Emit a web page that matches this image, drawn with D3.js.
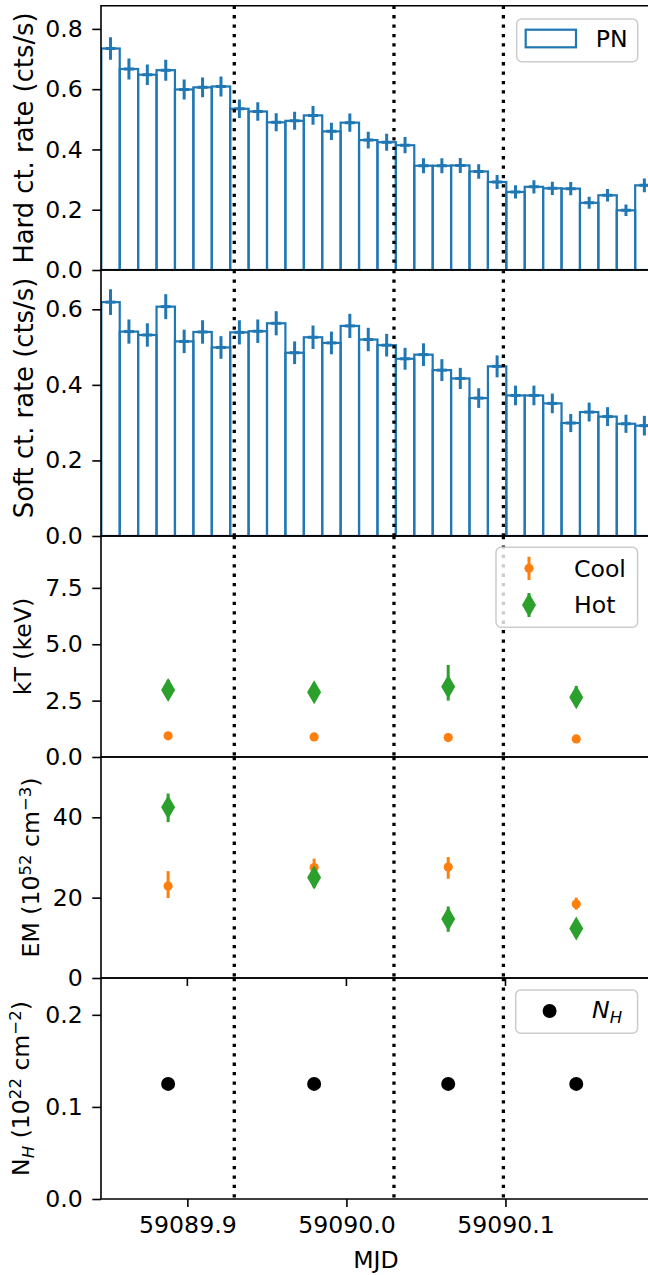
<!DOCTYPE html>
<html>
<head>
<meta charset="utf-8">
<script src="https://cdn.jsdelivr.net/npm/d3@7"></script>
<style>
  body { margin: 0; background: #fff; }
  svg { display: block; }
  text { font-family: "DejaVu Sans", sans-serif; fill: #000; }
</style>
</head>
<body>
<svg id="chart" width="648" height="1275"></svg>
<script>
// ---- Light-curve binning (1000 s bins) ----
const binStartMJD = 59089.8459;
const binWidthSec = 1000;

// PN hard-band count rate per bin and its 1-sigma error
const hardRate = [0.735, 0.667, 0.648, 0.663, 0.599, 0.606, 0.609, 0.535, 0.526, 0.490,
                  0.495, 0.513, 0.460, 0.489, 0.431, 0.424, 0.414, 0.346, 0.346, 0.347,
                  0.327, 0.292, 0.259, 0.276, 0.271, 0.270, 0.223, 0.248, 0.198, 0.281];
const hardErr  = [0.037, 0.035, 0.034, 0.035, 0.033, 0.033, 0.033, 0.031, 0.031, 0.030,
                  0.030, 0.031, 0.029, 0.030, 0.028, 0.028, 0.027, 0.025, 0.025, 0.025,
                  0.024, 0.023, 0.022, 0.022, 0.022, 0.022, 0.020, 0.021, 0.019, 0.023];

// PN soft-band count rate per bin and its 1-sigma error
const softRate = [0.619, 0.541, 0.532, 0.607, 0.515, 0.540, 0.499, 0.539, 0.542, 0.563,
                  0.485, 0.526, 0.511, 0.556, 0.520, 0.505, 0.469, 0.480, 0.439, 0.417,
                  0.365, 0.449, 0.372, 0.372, 0.351, 0.299, 0.328, 0.316, 0.297, 0.292];
const softErr  = [0.034, 0.032, 0.031, 0.033, 0.031, 0.031, 0.030, 0.032, 0.031, 0.032,
                  0.030, 0.031, 0.030, 0.032, 0.031, 0.030, 0.029, 0.030, 0.029, 0.028,
                  0.026, 0.029, 0.026, 0.026, 0.026, 0.024, 0.025, 0.025, 0.024, 0.026];

// ---- Time-resolved spectral fits (one per segment) ----
const segmentMJD = [59089.8879, 59089.9797, 59090.0640, 59090.1445];
const splitMJD   = [59089.9295, 59090.0299, 59090.0987];

const kTCool      = [0.94, 0.89, 0.86, 0.80];
const kTCoolErrLo = [0.06, 0.05, 0.05, 0.05];
const kTCoolErrHi = [0.06, 0.05, 0.05, 0.05];
const kTHot       = [2.97, 2.87, 3.12, 2.65];
const kTHotErrLo  = [0.35, 0.30, 0.62, 0.40];
const kTHotErrHi  = [0.45, 0.40, 0.96, 0.50];

const emCool      = [22.9, 27.5, 27.6, 18.4];
const emCoolErrLo = [3.0, 2.2, 2.9, 1.4];
const emCoolErrHi = [3.7, 2.2, 2.5, 1.6];
const emHot       = [42.5, 25.0, 14.7, 12.3];
const emHotErrLo  = [3.7, 2.5, 3.2, 2.0];
const emHotErrHi  = [3.4, 2.5, 3.1, 2.0];

const nH = [0.125, 0.125, 0.125, 0.125];

// ---- Axis ticks ----
const xTicks    = [59089.9, 59090.0, 59090.1];
const hardTicks = [0.0, 0.2, 0.4, 0.6, 0.8];
const softTicks = [0.0, 0.2, 0.4, 0.6];
const kTTicks   = [0.0, 2.5, 5.0, 7.5];
const emTicks   = [0, 20, 40];
const nHTicks   = [0.0, 0.1, 0.2];

// ---- Styling ----
const BLUE = "#1f77b4", ORANGE = "#ff7f0e", GREEN = "#2ca02c";
const FS = 23.6;
const RATE_FS = 25.8;
const TICK = 8.7, PAD = 9.6;

const svg = d3.select("#chart");
svg.append("rect").attr("width", 648).attr("height", 1275).attr("fill", "#fff");

const x = d3.scaleLinear().domain([59089.8457, 59090.1915]).range([101, 651]);
const left = x.range()[0], right = x.range()[1];

const panels = [
  { top: 5.7, bottom: 270, domain: [0, 0.877], ticks: hardTicks, fmt: d3.format(".1f") },
  { top: 270, bottom: 536, domain: [0, 0.704], ticks: softTicks, fmt: d3.format(".1f") },
  { top: 536, bottom: 757, domain: [0, 9.8],   ticks: kTTicks,   fmt: d3.format(".1f") },
  { top: 757, bottom: 978, domain: [0, 55],    ticks: emTicks,   fmt: d3.format("d") },
  { top: 978, bottom: 1199, domain: [0, 0.24], ticks: nHTicks,   fmt: d3.format(".1f") }
];
panels.forEach((p, i) => {
  p.y = d3.scaleLinear().domain(p.domain).range([p.bottom, p.top]);
  p.clipId = "clip" + i;
  svg.append("clipPath").attr("id", p.clipId)
    .append("rect").attr("x", left).attr("y", p.top)
    .attr("width", right - left).attr("height", p.bottom - p.top);
  p.g = svg.append("g");
  p.marks = p.g.append("g").attr("clip-path", `url(#${p.clipId})`);
});

// Bin edges in MJD
const binDay = binWidthSec / 86400;
function binLeft(i) { return binStartMJD + i * binDay; }

// Rich text helper for labels with sub/superscripts
function richText(sel, parts, fs) {
  fs = fs || FS;
  let shift = 0;
  parts.forEach(part => {
    const ts = sel.append("tspan").text(part.t);
    let target = 0;
    if (part.sup) target = -0.36 * fs;
    if (part.sub) target = 0.22 * fs;
    ts.attr("dy", target - shift);
    shift = target;
    if (part.sup || part.sub) ts.attr("font-size", fs * 0.7);
    if (part.italic) ts.attr("font-style", "italic");
  });
}

// ---- Light-curve panels ----
function drawLightCurve(p, rate, err) {
  const bins = rate.map((r, i) => ({ x0: binLeft(i), x1: binLeft(i + 1), r, e: err[i] }));
  p.marks.selectAll("rect.bin").data(bins).join("rect")
    .attr("class", "bin")
    .attr("x", d => x(d.x0)).attr("width", d => x(d.x1) - x(d.x0))
    .attr("y", d => p.y(d.r)).attr("height", d => p.y(0) - p.y(d.r))
    .attr("fill", "none").attr("stroke", BLUE).attr("stroke-width", 2.2);
  const eb = p.marks.selectAll("g.err").data(bins).join("g").attr("class", "err");
  eb.append("line")
    .attr("x1", d => x((d.x0 + d.x1) / 2)).attr("x2", d => x((d.x0 + d.x1) / 2))
    .attr("y1", d => p.y(d.r - d.e)).attr("y2", d => p.y(d.r + d.e))
    .attr("stroke", BLUE).attr("stroke-width", 3);
  eb.append("line")
    .attr("x1", d => x((d.x0 + d.x1) / 2) - 5).attr("x2", d => x((d.x0 + d.x1) / 2) + 5)
    .attr("y1", d => p.y(d.r)).attr("y2", d => p.y(d.r))
    .attr("stroke", BLUE).attr("stroke-width", 3);
}
drawLightCurve(panels[0], hardRate, hardErr);
drawLightCurve(panels[1], softRate, softErr);

// ---- Marker shapes ----
function diamondPath(h, w) { return `M0,${-h}L${w},0L0,${h}L${-w},0Z`; }

function drawSeries(p, vals, lo, hi, kind) {
  const color = kind === "hot" ? GREEN : ORANGE;
  const data = vals.map((v, i) => ({ t: segmentMJD[i], v, lo: lo[i], hi: hi[i] }));
  const g = p.marks.append("g");
  g.selectAll("line").data(data).join("line")
    .attr("x1", d => x(d.t)).attr("x2", d => x(d.t))
    .attr("y1", d => p.y(d.v - d.lo)).attr("y2", d => p.y(d.v + d.hi))
    .attr("stroke", color).attr("stroke-width", 3);
  if (kind === "hot") {
    g.selectAll("path").data(data).join("path")
      .attr("transform", d => `translate(${x(d.t)},${p.y(d.v)})`)
      .attr("d", diamondPath(12, 7)).attr("fill", color);
  } else {
    g.selectAll("circle").data(data).join("circle")
      .attr("cx", d => x(d.t)).attr("cy", d => p.y(d.v)).attr("r", 4.6)
      .attr("fill", color);
  }
}
drawSeries(panels[2], kTCool, kTCoolErrLo, kTCoolErrHi, "cool");
drawSeries(panels[2], kTHot, kTHotErrLo, kTHotErrHi, "hot");
drawSeries(panels[3], emCool, emCoolErrLo, emCoolErrHi, "cool");
drawSeries(panels[3], emHot, emHotErrLo, emHotErrHi, "hot");

panels[4].marks.append("g").selectAll("circle").data(nH).join("circle")
  .attr("cx", (d, i) => x(segmentMJD[i])).attr("cy", d => panels[4].y(d))
  .attr("r", 7).attr("fill", "#000");

// ---- Segment boundaries (dotted) ----
panels.forEach(p => {
  p.marks.append("g").selectAll("line").data(splitMJD).join("line")
    .attr("x1", d => x(d)).attr("x2", d => x(d))
    .attr("y1", p.top).attr("y2", p.bottom)
    .attr("stroke", "#000").attr("stroke-width", 3.3)
    .attr("stroke-dasharray", "3.3 6.1");
});

// ---- Axes frames, ticks and labels ----
panels.forEach((p, i) => {
  const ax = p.g.append("g").attr("transform", `translate(${left},0)`)
    .call(d3.axisLeft(p.y).tickValues(p.ticks).tickFormat(p.fmt)
      .tickSize(TICK).tickPadding(PAD));
  ax.select(".domain").remove();
  ax.selectAll(".tick line").attr("stroke", "#000").attr("stroke-width", 1.6);
  ax.selectAll(".tick text").attr("font-size", FS)
    .attr("font-family", "DejaVu Sans").attr("fill", "#000");
  p.g.append("path")
    .attr("d", `M${right},${p.top}H${left}V${p.bottom}H${right}`)
    .attr("fill", "none").attr("stroke", "#000").attr("stroke-width", 1.6);
});

// Bottom x axis
const xAxis = svg.append("g").attr("transform", `translate(0,${panels[4].bottom})`)
  .call(d3.axisBottom(x).tickValues(xTicks).tickFormat(d3.format(".1f"))
    .tickSize(8).tickPadding(9.7));
xAxis.select(".domain").remove();
xAxis.selectAll(".tick line").attr("stroke", "#000").attr("stroke-width", 1.6);
xAxis.selectAll(".tick text").attr("font-size", FS)
  .attr("font-family", "DejaVu Sans").attr("fill", "#000");

// Outward ticks of the EM panel, visible over the panel below
svg.append("g").selectAll("line").data(xTicks).join("line")
  .attr("x1", d => x(d)).attr("x2", d => x(d))
  .attr("y1", panels[3].bottom).attr("y2", panels[3].bottom + 8)
  .attr("stroke", "#000").attr("stroke-width", 1.6);

svg.append("text").attr("x", (left + right) / 2).attr("y", 1268)
  .attr("text-anchor", "middle").attr("font-size", FS).text("MJD");

// Y labels
function yLabel(bx, cy, parts, fs) {
  fs = fs || FS;
  const t = svg.append("text")
    .attr("transform", `translate(${bx},${cy}) rotate(-90)`)
    .attr("text-anchor", "middle").attr("font-size", fs);
  richText(t, parts, fs);
}
yLabel(33, 138, [{ t: "Hard ct. rate (cts/s)" }], RATE_FS);
yLabel(33, 398, [{ t: "Soft ct. rate (cts/s)" }], RATE_FS);
yLabel(31, 646.5, [{ t: "kT (keV)" }]);
yLabel(39, 867.5, [{ t: "EM (10" }, { t: "52", sup: true }, { t: " cm" }, { t: "\u22123", sup: true }, { t: ")" }]);
yLabel(29, 1088.5, [{ t: "N" }, { t: "H", sub: true, italic: true }, { t: " (10" }, { t: "22", sup: true }, { t: " cm" }, { t: "\u22122", sup: true }, { t: ")" }]);

// ---- Legends ----
function legendBox(x0, y0, x1, y1) {
  svg.append("rect").attr("x", x0).attr("y", y0)
    .attr("width", x1 - x0).attr("height", y1 - y0).attr("rx", 5)
    .attr("fill", "#fff").attr("fill-opacity", 0.8)
    .attr("stroke", "#cccccc").attr("stroke-width", 1.5);
}

legendBox(516.7, 19, 637.7, 61.7);
svg.append("rect").attr("x", 525.7).attr("y", 29.7).attr("width", 50.3).attr("height", 17.6)
  .attr("fill", "none").attr("stroke", BLUE).attr("stroke-width", 2.2);
svg.append("text").attr("x", 595.7).attr("y", 46.7).attr("font-size", FS).text("PN");

legendBox(496, 547.3, 637.6, 627.3);
svg.append("line").attr("x1", 529).attr("x2", 529).attr("y1", 556.7).attr("y2", 580)
  .attr("stroke", ORANGE).attr("stroke-width", 3);
svg.append("circle").attr("cx", 529).attr("cy", 568.3).attr("r", 4.6).attr("fill", ORANGE);
svg.append("text").attr("x", 574).attr("y", 576.7).attr("font-size", FS).text("Cool");
svg.append("line").attr("x1", 529).attr("x2", 529).attr("y1", 593).attr("y2", 617)
  .attr("stroke", GREEN).attr("stroke-width", 3);
svg.append("path").attr("transform", "translate(529,605)").attr("d", diamondPath(12, 7))
  .attr("fill", GREEN);
svg.append("text").attr("x", 574).attr("y", 612.7).attr("font-size", FS).text("Hot");

legendBox(515.7, 990, 637.6, 1033.3);
svg.append("circle").attr("cx", 549.6).attr("cy", 1011).attr("r", 7).attr("fill", "#000");
const nhLeg = svg.append("text").attr("x", 592).attr("y", 1018).attr("font-size", FS);
richText(nhLeg, [{ t: "N", italic: true }, { t: "H", sub: true, italic: true }]);
</script>
</body>
</html>
